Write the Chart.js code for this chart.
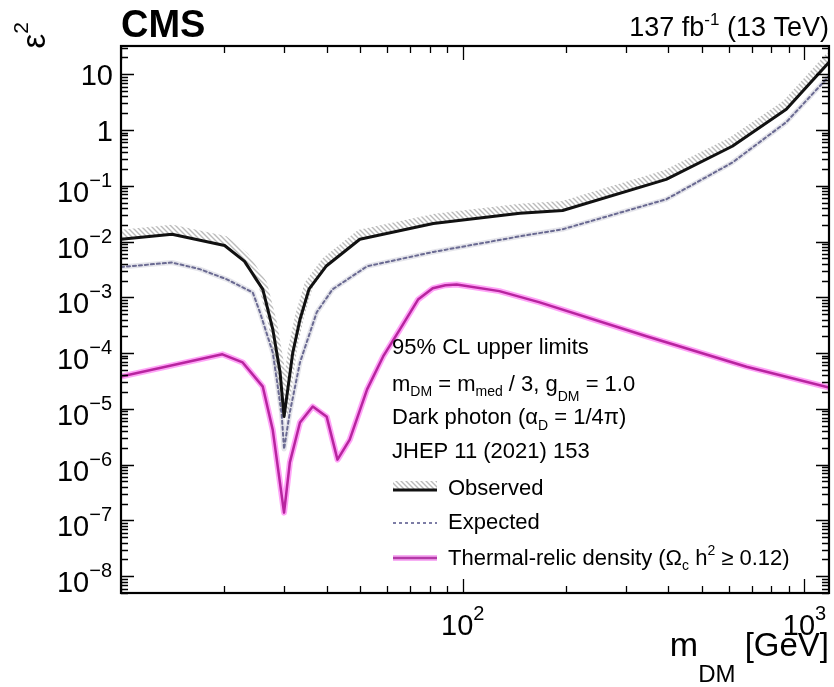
<!DOCTYPE html>
<html lang="en">
<head>
<meta charset="UTF-8">
<title>CMS dark photon limits</title>
<script src="https://cdn.jsdelivr.net/npm/chart.js"></script>
<style>
  body { margin: 0; background: #fff; }
  #wrap { position: relative; width: 834px; height: 687px; }
</style>
</head>
<body>
<div id="wrap"><canvas id="limitChart"></canvas></div>
<script>
// values: m_DM [GeV] vs epsilon^2
const obsMass = [10, 14.1, 20.1, 23.0, 26.0, 27.8, 29.2, 30, 31.2, 31.8, 33.4, 35.5, 39.8, 50, 82, 147, 196, 394, 615, 885, 1180];
const obsEps2 = [1.1e-2, 1.35e-2, 8.5e-3, 4.4e-3, 1.39e-3, 2.7e-4, 4.6e-5, 7.3e-6, 4.2e-5, 1.0e-4, 4.0e-4, 1.4e-3, 3.6e-3, 1.1e-2, 2.1e-2, 3.2e-2, 3.6e-2, 0.13, 0.51, 2.36, 16.4];

const expMass = [10, 14.1, 17.0, 20.4, 24.3, 25.5, 27.8, 29.5, 30, 31.2, 33.4, 37.4, 41.6, 52.5, 82, 147, 196, 394, 615, 885, 1180];
const expEps2 = [3.5e-3, 4.2e-3, 3.2e-3, 2.1e-3, 1.22e-3, 5.4e-4, 1.03e-4, 8.7e-6, 1.9e-6, 8.7e-6, 6.8e-5, 5.4e-4, 1.39e-3, 3.6e-3, 6.5e-3, 1.24e-2, 1.66e-2, 5.7e-2, 0.26, 1.38, 9.2];

const relicMass = [10, 19.8, 22.7, 26.0, 27.8, 30, 31.2, 33.4, 36.4, 40.0, 43.0, 46.7, 52.5, 58.5, 65.5, 74, 81.7, 89, 96, 128, 168, 345, 677, 1180];
const relicEps2 = [3.8e-5, 9.5e-5, 6.8e-5, 2.5e-5, 4.2e-6, 1.38e-7, 1.1e-6, 5.7e-6, 1.1e-5, 7.2e-6, 1.23e-6, 2.8e-6, 2.24e-5, 8.7e-5, 2.66e-4, 9.1e-4, 1.45e-3, 1.65e-3, 1.7e-3, 1.29e-3, 8.1e-4, 2.0e-4, 5.7e-5, 2.4e-5];

const xMin = 10, xMax = 1180;
const yMin = 5e-9, yMax = 32;
const yLabelDecades = [1, 0, -1, -2, -3, -4, -5, -6, -7, -8];
const xLabelDecades = [2, 3];

const FONT = '"Liberation Sans", Arial, Helvetica, sans-serif';

function pts(xs, ys) {
  return xs.map((x, i) => ({ x: x, y: ys[i] }));
}

// hatch pattern for the observed exclusion side
function makeHatch() {
  const c = document.createElement('canvas');
  c.width = 5; c.height = 5;
  const g = c.getContext('2d');
  g.strokeStyle = 'rgba(120,120,120,0.5)';
  g.lineWidth = 1.4;
  g.beginPath();
  g.moveTo(-1, -1); g.lineTo(6, 6);
  g.moveTo(-1, 4); g.lineTo(1, 6);
  g.moveTo(4, -1); g.lineTo(6, 1);
  g.stroke();
  return g.createPattern(c, 'repeat');
}
const hatch = makeHatch();

// draw text pieces with sub/superscripts: [text, size, dy, weight]
function richWidth(ctx, parts) {
  let w = 0;
  parts.forEach(p => { ctx.font = (p[3] || '') + p[1] + 'px ' + FONT; w += ctx.measureText(p[0]).width; });
  return w;
}
function drawRich(ctx, parts, x, y, align) {
  let cx = x;
  if (align === 'right') cx = x - richWidth(ctx, parts);
  if (align === 'center') cx = x - richWidth(ctx, parts) / 2;
  ctx.textAlign = 'left';
  ctx.textBaseline = 'alphabetic';
  parts.forEach(p => {
    ctx.font = (p[3] || '') + p[1] + 'px ' + FONT;
    ctx.fillText(p[0], cx, y + (p[2] || 0));
    cx += ctx.measureText(p[0]).width;
  });
}

const shiftHatch = {
  id: 'shiftHatch',
  beforeDatasetDraw(chart, args) {
    if (chart.data.datasets[args.index].hatchBand) {
      chart.ctx.save();
      chart.ctx.translate(0, -5);
    }
  },
  afterDatasetDraw(chart, args) {
    if (chart.data.datasets[args.index].hatchBand) chart.ctx.restore();
  }
};

const rootFrame = {
  id: 'rootFrame',
  afterDatasetsDraw(chart) {
    const ctx = chart.ctx, a = chart.chartArea;
    const xs = chart.scales.x, ys = chart.scales.y;
    ctx.save();
    ctx.strokeStyle = '#000';
    ctx.fillStyle = '#000';

    // ticks
    ctx.lineWidth = 1.3;
    ctx.beginPath();
    for (let d = 1; d <= 3; d++) {
      for (let k = 1; k <= 9; k++) {
        const v = k * Math.pow(10, d);
        if (v < xMin || v > xMax) continue;
        const px = Math.round(xs.getPixelForValue(v)) + 0.5;
        const len = k === 1 ? 14 : 7;
        ctx.moveTo(px, a.bottom); ctx.lineTo(px, a.bottom - len);
        ctx.moveTo(px, a.top); ctx.lineTo(px, a.top + len);
      }
    }
    for (let d = -9; d <= 1; d++) {
      for (let k = 1; k <= 9; k++) {
        const v = k * Math.pow(10, d);
        if (v < yMin || v > yMax) continue;
        const py = Math.round(ys.getPixelForValue(v)) + 0.5;
        const len = k === 1 ? 13 : 7;
        ctx.moveTo(a.left, py); ctx.lineTo(a.left + len, py);
        ctx.moveTo(a.right, py); ctx.lineTo(a.right - len, py);
      }
    }
    ctx.stroke();

    // frame
    ctx.lineWidth = 2.2;
    ctx.strokeRect(a.left, a.top, a.right - a.left, a.bottom - a.top);

    // y tick labels
    yLabelDecades.forEach(d => {
      const py = ys.getPixelForValue(Math.pow(10, d));
      if (d === 1) drawRich(ctx, [['10', 29]], 113, py + 11, 'right');
      else if (d === 0) drawRich(ctx, [['1', 29]], 113, py + 11, 'right');
      else drawRich(ctx, [['10', 29], ['\u2212' + (-d), 20, -15]], 112, py + 16, 'right');
    });
    // x tick labels
    xLabelDecades.forEach(d => {
      const px = xs.getPixelForValue(Math.pow(10, d));
      drawRich(ctx, [['10', 29], [String(d), 20, -15]], px, 635, 'center');
    });

    // axis titles
    drawRich(ctx, [['m', 34], ['DM', 24, 26], [' [GeV]', 33]], 829, 656, 'right');
    ctx.save();
    ctx.translate(45, 22);
    ctx.rotate(-Math.PI / 2);
    drawRich(ctx, [['\u03b5', 33], ['2', 21, -17]], 0, 0, 'right');
    ctx.restore();

    // header
    drawRich(ctx, [['CMS', 38, 0, 'bold ']], 121, 37, 'left');
    drawRich(ctx, [['137 fb', 27], ['-1', 17, -11], [' (13 TeV)', 27]], 829, 36, 'right');

    // info text
    const lx = 392;
    drawRich(ctx, [['95% CL upper limits', 22]], lx, 354);
    drawRich(ctx, [['m', 22], ['DM', 14, 5], [' = m', 22], ['med', 14, 5], [' / 3, g', 22], ['DM', 14, 10], [' = 1.0', 22]], lx, 391);
    drawRich(ctx, [['Dark photon (\u03b1', 22], ['D', 14, 6], [' = 1/4\u03c0)', 22]], lx, 424);
    drawRich(ctx, [['JHEP 11 (2021) 153', 22]], lx, 458);

    // legend
    const sx0 = 393, sx1 = 437, tx = 448;
    // observed sample
    ctx.lineWidth = 8;
    ctx.strokeStyle = hatch;
    ctx.beginPath(); ctx.moveTo(sx0, 485); ctx.lineTo(sx1, 485); ctx.stroke();
    ctx.lineWidth = 3;
    ctx.strokeStyle = '#111';
    ctx.beginPath(); ctx.moveTo(sx0, 490); ctx.lineTo(sx1, 490); ctx.stroke();
    drawRich(ctx, [['Observed', 22]], tx, 495);
    // expected sample
    ctx.lineWidth = 2;
    ctx.strokeStyle = '#7d7da6';
    ctx.setLineDash([3, 3]);
    ctx.beginPath(); ctx.moveTo(sx0, 523); ctx.lineTo(sx1, 523); ctx.stroke();
    ctx.setLineDash([]);
    drawRich(ctx, [['Expected', 22]], tx, 529);
    // relic sample
    ctx.lineWidth = 6;
    ctx.strokeStyle = 'rgba(240,110,235,0.55)';
    ctx.beginPath(); ctx.moveTo(sx0, 558); ctx.lineTo(sx1, 558); ctx.stroke();
    ctx.lineWidth = 2.5;
    ctx.strokeStyle = '#b43aa8';
    ctx.beginPath(); ctx.moveTo(sx0, 558); ctx.lineTo(sx1, 558); ctx.stroke();
    drawRich(ctx, [['Thermal-relic density (\u03a9', 22], ['c', 14, 5], [' h', 22], ['2', 14, -10], [' \u2265 0.12)', 22]], tx, 565);

    ctx.restore();
  }
};

const ctx = document.getElementById('limitChart').getContext('2d');
new Chart(ctx, {
  type: 'line',
  data: {
    datasets: [
      {
        label: 'Observed',
        data: pts(obsMass, obsEps2),
        borderColor: '#111',
        borderWidth: 3,
        order: 1
      },
      {
        label: 'Observed band',
        hatchBand: true,
        data: pts(obsMass, obsEps2),
        borderColor: hatch,
        borderWidth: 9,
        order: 3
      },
      {
        label: 'Expected',
        data: pts(expMass, expEps2),
        borderColor: '#6a6a92',
        borderWidth: 2,
        borderDash: [3, 3],
        order: 2
      },
      {
        label: 'Expected haze',
        data: pts(expMass, expEps2),
        borderColor: 'rgba(150,150,175,0.25)',
        borderWidth: 5,
        order: 4
      },
      {
        label: 'Thermal-relic density',
        data: pts(relicMass, relicEps2),
        borderColor: '#b8249f',
        borderWidth: 2.5,
        order: 5
      },
      {
        label: 'Thermal-relic glow',
        data: pts(relicMass, relicEps2),
        borderColor: 'rgba(255,90,240,0.55)',
        borderWidth: 6,
        order: 6
      }
    ]
  },
  options: {
    responsive: true,
    maintainAspectRatio: false,
    animation: false,
    layout: { padding: { left: 121, top: 46, right: 5, bottom: 94 } },
    elements: { point: { radius: 0 }, line: { tension: 0, borderJoinStyle: 'round', borderCapStyle: 'round' } },
    plugins: { legend: { display: false }, tooltip: { enabled: false } },
    scales: {
      x: {
        type: 'logarithmic', min: xMin, max: xMax,
        grid: { display: false }, border: { display: false },
        ticks: { display: false },
        afterFit: s => { s.height = 0; }
      },
      y: {
        type: 'logarithmic', min: yMin, max: yMax,
        grid: { display: false }, border: { display: false },
        ticks: { display: false },
        afterFit: s => { s.width = 0; }
      }
    }
  },
  plugins: [shiftHatch, rootFrame]
});
</script>
</body>
</html>
